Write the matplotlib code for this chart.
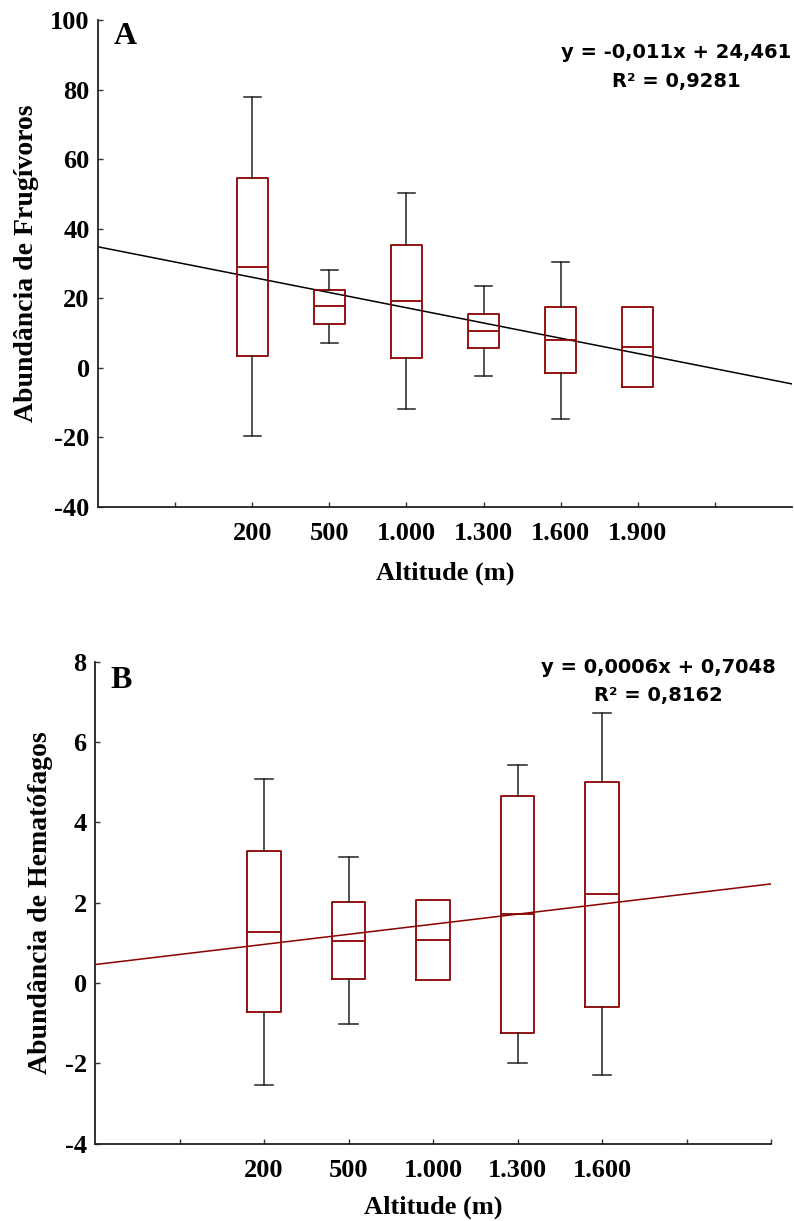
import matplotlib
matplotlib.use("Agg")
import matplotlib.pyplot as plt
import numpy as np

# ---- data -------------------------------------------------------------
frug_labels = ["200", "500", "1.000", "1.300", "1.600", "1.900"]
frug_med = [29.1, 17.7, 19.2, 10.7, 7.9, 5.9]
frug_q1 = [3.4, 12.7, 2.9, 5.7, -1.5, -5.4]
frug_q3 = [54.6, 22.4, 35.3, 15.5, 17.4, 17.4]
frug_lo = [-19.6, 7.1, -11.8, -2.2, -14.8, None]
frug_hi = [77.8, 28.2, 50.2, 23.6, 30.5, None]
frug_trend = (34.8, -4.38)          # value at left edge, change per category step
frug_eq = "y = -0,011x + 24,461\nR² = 0,9281"

hema_labels = ["200", "500", "1.000", "1.300", "1.600"]
hema_med = [1.28, 1.05, 1.07, 1.71, 2.21]
hema_q1 = [-0.72, 0.10, 0.07, -1.25, -0.59]
hema_q3 = [3.28, 2.01, 2.07, 4.66, 5.01]
hema_lo = [-2.54, -1.02, None, -2.00, -2.30]
hema_hi = [5.08, 3.13, None, 5.42, 6.73]
hema_trend = (0.46, 0.251)
hema_eq = "y = 0,0006x + 0,7048\nR² = 0,8162"

# ---- style ------------------------------------------------------------
BOX_RED = "#8B0000"
SERIF = ["Liberation Serif", "DejaVu Serif"]
TICK_FS = 19
LABEL_FS = 19

fig = plt.figure(figsize=(7.94, 12.21), dpi=100)


def panel(rect, labels, med, q1, q3, lo, hi, trend, trend_color, eq,
          eq_xy, letter, letter_xy, ylim, yticks, xmax, ylabel, xlabelpad):
    ax = fig.add_axes(rect)
    n = len(labels)
    pos = np.arange(2, 2 + n)
    stats = []
    for i in range(n):
        wl = lo[i] if lo[i] is not None else q1[i]
        wh = hi[i] if hi[i] is not None else q3[i]
        stats.append(dict(med=med[i], q1=q1[i], q3=q3[i],
                          whislo=wl, whishi=wh, fliers=[]))
    art = ax.bxp(stats, positions=pos, widths=0.4, showfliers=False,
                 patch_artist=False, manage_ticks=False,
                 boxprops=dict(color=BOX_RED, linewidth=1.3),
                 medianprops=dict(color=BOX_RED, linewidth=1.3),
                 whiskerprops=dict(color="#222222", linewidth=1.1),
                 capprops=dict(color="#222222", linewidth=1.1),
                 capwidths=0.22)
    for i in range(n):
        if lo[i] is None:
            art["whiskers"][2 * i].set_visible(False)
            art["caps"][2 * i].set_visible(False)
        if hi[i] is None:
            art["whiskers"][2 * i + 1].set_visible(False)
            art["caps"][2 * i + 1].set_visible(False)

    xs = np.array([0, xmax])
    ax.plot(xs, trend[0] + trend[1] * xs, color=trend_color, lw=1.1,
            zorder=1)

    ax.set_xlim(0, xmax)
    ax.set_ylim(*ylim)
    ax.set_yticks(yticks)
    ax.set_yticklabels([str(t) for t in yticks])
    ticks = np.arange(1, 9)
    ax.set_xticks(ticks)
    ax.set_xticklabels(["" if t not in pos else labels[t - 2] for t in ticks])
    for lab in ax.get_xticklabels() + ax.get_yticklabels():
        lab.set_family(SERIF)
        lab.set_fontweight("bold")
        lab.set_fontsize(TICK_FS)
    ax.tick_params(axis="both", direction="in", length=3.5, width=1.0,
                   color="#333333")
    ax.tick_params(axis="x", pad=11)
    ax.tick_params(axis="y", pad=6)
    for s in ("top", "right"):
        ax.spines[s].set_visible(False)
    for s in ("left", "bottom"):
        ax.spines[s].set_linewidth(1.3)
        ax.spines[s].set_color("#222222")
    ax.set_xlabel("Altitude (m)", family=SERIF, fontweight="bold",
                  fontsize=LABEL_FS, labelpad=xlabelpad)
    ax.set_ylabel(ylabel, family=SERIF, fontweight="bold",
                  fontsize=LABEL_FS + 1, labelpad=8)
    ax.text(*eq_xy, eq, transform=ax.transAxes, ha="center", va="center",
            family="DejaVu Sans", fontweight="bold", fontsize=14,
            linespacing=1.6)
    ax.text(*letter_xy, letter, transform=ax.transAxes, ha="center",
            va="center", family=SERIF, fontweight="bold", fontsize=23)
    return ax


# top panel: frugivores
panel([98 / 794, 1 - 507 / 1221, 694 / 794, 487 / 1221],
      frug_labels, frug_med, frug_q1, frug_q3, frug_lo, frug_hi,
      frug_trend, "black", frug_eq,
      ((676 - 98) / 694, (507 - 67) / 487), "A",
      ((125 - 98) / 694, (507 - 37) / 487),
      (-40, 100), list(range(-40, 101, 20)), 9,
      "Abundância de Frugívoros", 11.5)

# bottom panel: haematophagous
panel([95 / 794, 1 - 1143.7 / 1221, 676 / 794, 482 / 1221],
      hema_labels, hema_med, hema_q1, hema_q3, hema_lo, hema_hi,
      hema_trend, BOX_RED, hema_eq,
      ((658.5 - 95) / 676, (1143.7 - 681.7) / 482), "B",
      ((121.5 - 95) / 676, (1143.7 - 680) / 482),
      (-4, 8), list(range(-4, 9, 2)), 8,
      "Abundância de Hematófagos", 10)

fig.savefig("out.png", dpi=100)
